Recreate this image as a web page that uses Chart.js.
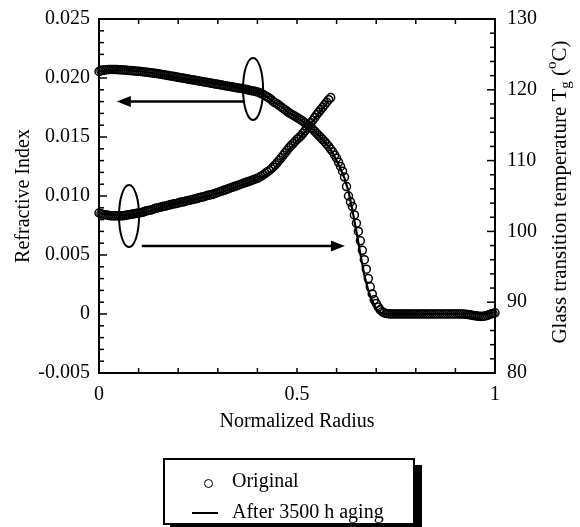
<!DOCTYPE html>
<html><head><meta charset="utf-8">
<script src="https://cdn.jsdelivr.net/npm/chart.js@4"></script>
<style>
html,body{margin:0;padding:0;background:#fff;}
#wrap{position:relative;width:580px;height:527px;overflow:hidden;}
#c{position:absolute;left:0;top:0;}
#legend{position:absolute;left:163px;top:458px;width:248px;height:63px;border:2px solid #000;background:#fff;box-shadow:7px 7px 0 #000;font-family:"Liberation Serif",serif;font-size:20px;color:#000;}
#legend .t{position:absolute;left:67px;white-space:nowrap;line-height:20px;}
#legend .circ{position:absolute;left:39px;top:19px;width:7px;height:7px;border:1.3px solid #000;border-radius:50%;}
#legend .ln{position:absolute;left:27px;top:52px;width:26px;height:2px;background:#000;}
</style></head>
<body>
<div id="wrap">
<canvas id="c" width="580" height="527"></canvas>
<div id="legend">
  <div class="circ"></div><div class="t" style="top:10px">Original</div>
  <div class="ln"></div><div class="t" style="top:41px">After 3500 h aging</div>
</div>
</div>
<script>
// ---------- DATA ----------
const radius = [
0,0.005,0.01,0.015,0.02,0.025,0.03,0.035,0.04,0.045,
0.05,0.055,0.06,0.065,0.07,0.075,0.08,0.085,0.09,0.095,
0.1,0.105,0.11,0.115,0.12,0.125,0.13,0.135,0.14,0.145,
0.15,0.155,0.16,0.165,0.17,0.175,0.18,0.185,0.19,0.195,
0.2,0.205,0.21,0.215,0.22,0.225,0.23,0.235,0.24,0.245,
0.25,0.255,0.26,0.265,0.27,0.275,0.28,0.285,0.29,0.295,
0.3,0.305,0.31,0.315,0.32,0.325,0.33,0.335,0.34,0.345,
0.35,0.355,0.36,0.365,0.37,0.375,0.38,0.385,0.39,0.395,
0.4,0.405,0.41,0.415,0.42,0.425,0.43,0.435,0.44,0.445,
0.45,0.455,0.46,0.465,0.47,0.475,0.48,0.485,0.49,0.495,
0.5,0.505,0.51,0.515,0.52,0.525,0.53,0.535,0.54,0.545,
0.55,0.555,0.56,0.565,0.57,0.575,0.58,0.585,0.59,0.595,
0.6,0.605,0.61,0.615,0.62,0.625,0.63,0.635,0.64,0.645,
0.65,0.655,0.66,0.665,0.67,0.675,0.68,0.685,0.69,0.695,
0.7,0.705,0.71,0.715,0.72,0.725,0.73,0.735,0.74,0.745,
0.75,0.755,0.76,0.765,0.77,0.775,0.78,0.785,0.79,0.795,
0.8,0.805,0.81,0.815,0.82,0.825,0.83,0.835,0.84,0.845,
0.85,0.855,0.86,0.865,0.87,0.875,0.88,0.885,0.89,0.895,
0.9,0.905,0.91,0.915,0.92,0.925,0.93,0.935,0.94,0.945,
0.95,0.955,0.96,0.965,0.97,0.975,0.98,0.985,0.99,0.995,
1];

// Refractive index, original (circles)
const riOriginal = [
0.02055,0.02060,0.02065,0.02068,0.02070,0.02071,0.02072,0.02072,0.02072,0.02071,
0.02070,0.02069,0.02068,0.02067,0.02066,0.02064,0.02063,0.02061,0.02060,0.02058,
0.02057,0.02055,0.02053,0.02051,0.02049,0.02047,0.02045,0.02043,0.02040,0.02038,
0.02035,0.02032,0.02030,0.02027,0.02024,0.02021,0.02018,0.02015,0.02012,0.02009,
0.02006,0.02003,0.02000,0.01997,0.01994,0.01991,0.01988,0.01985,0.01982,0.01979,
0.01976,0.01973,0.01970,0.01967,0.01964,0.01961,0.01958,0.01955,0.01952,0.01949,
0.01946,0.01943,0.01940,0.01937,0.01934,0.01931,0.01928,0.01925,0.01922,0.01919,
0.01916,0.01913,0.01910,0.01907,0.01904,0.01900,0.01897,0.01893,0.01890,0.01886,
0.01882,0.01876,0.01868,0.01860,0.01850,0.01840,0.01830,0.01816,0.01800,0.01790,
0.01780,0.01768,0.01755,0.01742,0.01730,0.01718,0.01705,0.01695,0.01685,0.01675,
0.01665,0.01655,0.01645,0.01633,0.01620,0.01608,0.01595,0.01580,0.01565,0.01548,
0.01530,0.01512,0.01495,0.01478,0.01460,0.01440,0.01420,0.01398,0.01375,0.01348,
0.01320,0.01285,0.01250,0.01210,0.01160,0.01080,0.01000,0.00950,0.00910,0.00840,
0.00770,0.00700,0.00620,0.00540,0.00460,0.00380,0.00300,0.00230,0.00170,0.00120,
0.00090,0.00060,0.00035,0.00020,0.00010,0.00005,0.00002,0.00000,0.00000,0.00000,
0.00000,0.00001,0.00001,0.00000,0.00000,0.00001,0.00001,0.00000,0.00000,0.00001,
0.00001,0.00000,0.00000,0.00001,0.00001,0.00000,0.00000,0.00001,0.00001,0.00000,
0.00000,0.00001,0.00001,0.00000,0.00000,0.00001,0.00001,0.00000,0.00000,0.00000,
0.00000,0.00000,0.00000,0.00000,-0.00001,-0.00002,-0.00004,-0.00006,-0.00009,-0.00012,
-0.00015,-0.00018,-0.00020,-0.00021,-0.00020,-0.00017,-0.00012,-0.00006,0.00000,0.00005,
0.00010];

// Glass transition temperature, original (circles), radius 0 .. 0.585
const tgOriginal = [
102.6,102.5,102.4,102.35,102.3,102.25,102.2,102.2,102.2,102.2,
102.2,102.2,102.2,102.25,102.3,102.35,102.4,102.45,102.5,102.55,
102.6,102.65,102.7,102.8,102.9,102.95,103.0,103.1,103.2,103.3,
103.35,103.4,103.5,103.55,103.6,103.7,103.75,103.85,103.9,103.95,
104.0,104.1,104.15,104.2,104.3,104.35,104.4,104.5,104.55,104.6,
104.7,104.8,104.85,104.9,105.0,105.1,105.15,105.2,105.3,105.4,
105.5,105.6,105.7,105.8,105.9,106.0,106.1,106.2,106.3,106.4,
106.5,106.6,106.7,106.8,106.9,107.0,107.1,107.2,107.3,107.4,
107.5,107.65,107.8,108.0,108.2,108.4,108.6,108.85,109.1,109.4,
109.7,110.05,110.4,110.75,111.1,111.45,111.8,112.1,112.4,112.7,
113.0,113.25,113.5,113.85,114.2,114.6,115.0,115.35,115.7,116.1,
116.5,116.85,117.2,117.55,117.9,118.25,118.6,118.9];

// After 3500 h aging (solid line)
const agedRiRadius = [
0,0.02,0.04,0.06,0.08,0.10,0.12,0.14,0.16,0.18,
0.20,0.22,0.24,0.26,0.28,0.30,0.32,0.34,0.36,0.38,
0.40,0.42,0.44,0.46,0.48,0.50,0.52,0.54,0.56,0.58,
0.59,0.60,0.61,0.62,0.63,0.64,0.65,0.66,0.67,0.68,0.69,0.70,0.71,0.72,
0.74,0.76,0.78,0.80,0.82,0.84,0.86,0.88,0.90,0.92,0.94,0.96,0.98,1.00];
const agedRi = [
0.02055,0.02065,0.02070,0.02068,0.02063,0.02057,0.02049,0.02040,0.02030,0.02018,
0.02006,0.01994,0.01982,0.01970,0.01958,0.01946,0.01934,0.01922,0.01910,0.01897,
0.01882,0.01850,0.01800,0.01755,0.01705,0.01665,0.01620,0.01565,0.01495,0.01415,
0.01365,0.01300,0.01230,0.01150,0.01040,0.00880,0.00700,0.00510,0.00330,0.00200,0.00110,0.00045,0.00010,0.00000,
-0.00003,0.00000,0.00000,0.00001,0.00001,0.00001,0.00001,0.00001,0.00001,0.00001,0.00002,0.00003,0.00005,0.00015];

const agedTgRadius = [
0,0.02,0.04,0.06,0.08,0.10,0.12,0.14,0.16,0.18,
0.20,0.22,0.24,0.26,0.28,0.30,0.32,0.34,0.36,0.38,
0.40,0.42,0.44,0.46,0.48,0.50,0.52,0.54,0.56,0.58];
const agedTg = [
102.6,102.4,102.3,102.3,102.4,102.6,102.8,103.1,103.4,103.7,
104.0,104.2,104.5,104.8,105.1,105.4,105.8,106.2,106.6,107.0,
107.4,107.9,108.7,110.0,111.5,112.8,114.0,115.5,117.0,118.4];

// Tick labels
const xTickValues = [0, 0.5, 1];
const xTickLabels = ['0', '0.5', '1'];
const riTickValues = [-0.005, 0, 0.005, 0.010, 0.015, 0.020, 0.025];
const riTickLabels = ['-0.005', '0', '0.005', '0.010', '0.015', '0.020', '0.025'];
const tgTickValues = [80, 90, 100, 110, 120, 130];
const tgTickLabels = ['80', '90', '100', '110', '120', '130'];

// Annotation anchors (data space)
const annotations = {
  ellipseRi: {x: 0.389, y: 0.01907},
  arrowRi: {from: 0.369, to: 0.045, y: 0.0180},
  ellipseTg: {x: 0.0758, y: 0.0083},
  arrowTg: {from: 0.108, to: 0.621, y: 0.00576}
};

// ---------- CHART ----------
const FONT = "'Liberation Serif', 'Times New Roman', serif";
Chart.defaults.font.family = FONT;
Chart.defaults.color = '#000';

function labelFor(values, labels) {
  return v => { const i = values.findIndex(t => Math.abs(t - v) < 1e-9); return i >= 0 ? labels[i] : ''; };
}

const frameTicks = {
  id: 'frameTicks',
  afterDraw(chart) {
    const {ctx, chartArea: a, scales} = chart;
    ctx.save();
    ctx.strokeStyle = '#000';
    ctx.lineWidth = 1.5;
    const seg = (x1, y1, x2, y2) => { ctx.beginPath(); ctx.moveTo(x1, y1); ctx.lineTo(x2, y2); ctx.stroke(); };
    for (let k = 0; k <= 10; k++) {
      const p = scales.x.getPixelForValue(k / 10);
      seg(p, a.bottom, p, a.bottom - 5);
      seg(p, a.top, p, a.top + 5);
    }
    for (let k = -5; k <= 25; k++) {
      const p = scales.y.getPixelForValue(k / 1000);
      const len = (k % 5 === 0) ? 8 : 5;
      seg(a.left, p, a.left + len, p);
    }
    for (let k = 80; k <= 130; k += 2) {
      const p = scales.y1.getPixelForValue(k);
      const len = (k % 10 === 0) ? 8 : 5;
      seg(a.right, p, a.right - len, p);
    }
    ctx.lineWidth = 2;
    ctx.strokeRect(a.left, a.top, a.right - a.left, a.bottom - a.top);

    // annotations
    const X = scales.x, Y = scales.y;
    const ellipse = (pt) => {
      ctx.beginPath();
      ctx.ellipse(X.getPixelForValue(pt.x), Y.getPixelForValue(pt.y), 10, 31, 0, 0, Math.PI * 2);
      ctx.lineWidth = 2; ctx.stroke();
    };
    const arrow = (ar) => {
      const x1 = X.getPixelForValue(ar.from), x2 = X.getPixelForValue(ar.to), y = Y.getPixelForValue(ar.y);
      const dir = Math.sign(x2 - x1);
      ctx.lineWidth = 2.5;
      seg(x1, y, x2 - dir * 12, y);
      ctx.beginPath();
      ctx.moveTo(x2, y);
      ctx.lineTo(x2 - dir * 14, y - 5.5);
      ctx.lineTo(x2 - dir * 14, y + 5.5);
      ctx.closePath();
      ctx.fillStyle = '#000'; ctx.fill();
    };
    ellipse(annotations.ellipseRi);
    arrow(annotations.arrowRi);
    ellipse(annotations.ellipseTg);
    arrow(annotations.arrowTg);

    // right axis title (reads bottom to top)
    const cx = 560, cy = 192;
    const parts = [
      {t: 'Glass transition temperature T', f: '21px ' + FONT, dy: 0},
      {t: 'g', f: '15px ' + FONT, dy: 6},
      {t: ' (', f: '21px ' + FONT, dy: 0},
      {t: 'o', f: '15px ' + FONT, dy: -8},
      {t: 'C)', f: '21px ' + FONT, dy: 0}
    ];
    ctx.translate(cx, cy);
    ctx.rotate(-Math.PI / 2);
    ctx.fillStyle = '#000';
    ctx.textBaseline = 'middle';
    let total = 0;
    parts.forEach(p => { ctx.font = p.f; p.w = ctx.measureText(p.t).width; total += p.w; });
    let xx = -total / 2;
    parts.forEach(p => { ctx.font = p.f; ctx.fillText(p.t, xx, p.dy); xx += p.w; });
    ctx.restore();
  }
};

const toPts = (xs, ys) => ys.map((v, i) => ({x: xs[i], y: v}));
const noVPad = s => { s.paddingTop = 0; s.paddingBottom = 0; };

new Chart(document.getElementById('c'), {
  type: 'scatter',
  data: {
    datasets: [
      {label: 'After 3500 h aging', data: toPts(agedRiRadius, agedRi), yAxisID: 'y', showLine: true,
       pointRadius: 0, borderColor: '#000', borderWidth: 2.2, order: 0, clip: false},
      {label: 'After 3500 h aging', data: toPts(agedTgRadius, agedTg), yAxisID: 'y1', showLine: true,
       pointRadius: 0, borderColor: '#000', borderWidth: 2.2, order: 0, clip: false},
      {label: 'Original', data: toPts(radius, riOriginal), yAxisID: 'y', pointStyle: 'circle',
       pointRadius: 4, pointBorderWidth: 1.5, pointBorderColor: '#000', pointBackgroundColor: 'rgba(0,0,0,0)', order: 1, clip: false},
      {label: 'Original', data: toPts(radius.slice(0, tgOriginal.length), tgOriginal), yAxisID: 'y1', pointStyle: 'circle',
       pointRadius: 4, pointBorderWidth: 1.5, pointBorderColor: '#000', pointBackgroundColor: 'rgba(0,0,0,0)', order: 1, clip: false}
    ]
  },
  options: {
    responsive: false,
    animation: false,
    events: [],
    layout: {padding: {left: 12, top: 19, right: 0, bottom: 93}},
    plugins: {legend: {display: false}, tooltip: {enabled: false}},
    scales: {
      x: {
        type: 'linear', position: 'bottom', min: 0, max: 1,
        grid: {display: false, drawTicks: false}, border: {display: false},
        ticks: {stepSize: 0.5, padding: 10, font: {size: 20}, color: '#000', callback: labelFor(xTickValues, xTickLabels)},
        title: {display: true, text: 'Normalized Radius', font: {size: 20}, color: '#000', padding: 0},
        afterFit: s => { s.height = 61; }
      },
      y: {
        type: 'linear', position: 'left', min: -0.005, max: 0.025,
        grid: {display: false, drawTicks: false}, border: {display: false},
        ticks: {stepSize: 0.005, padding: 9, font: {size: 20}, color: '#000', callback: labelFor(riTickValues, riTickLabels)},
        title: {display: true, text: 'Refractive Index', font: {size: 20}, color: '#000', padding: 0},
        afterFit: s => { s.width = 87; noVPad(s); }
      },
      y1: {
        type: 'linear', position: 'right', min: 80, max: 130,
        grid: {display: false, drawTicks: false}, border: {display: false},
        ticks: {stepSize: 10, padding: 12, font: {size: 20}, color: '#000', callback: labelFor(tgTickValues, tgTickLabels)},
        afterFit: s => { s.width = 85; noVPad(s); }
      }
    }
  },
  plugins: [frameTicks]
});
</script>
</body></html>
